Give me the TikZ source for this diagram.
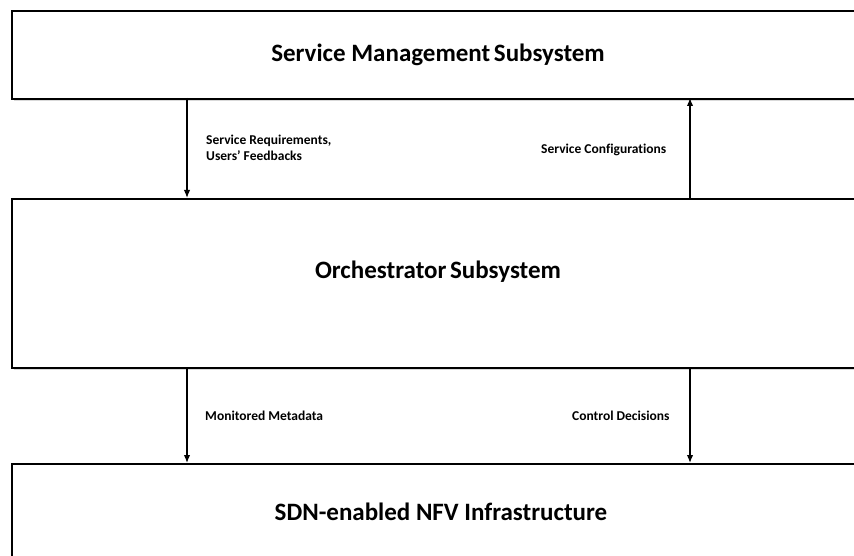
\documentclass[tikz,border=0pt]{standalone}
\usepackage{fontspec}
\setmainfont{Carlito}[Ligatures={NoCommon}]
\usetikzlibrary{arrows.meta,shadows}
\begin{document}
\begin{tikzpicture}[x=1pt,y=-1pt,
  layerbox/.style={draw=black, line width=2pt, fill=white, rectangle, anchor=north west, inner sep=0pt,
     drop shadow={shadow xshift=1.5pt, shadow yshift=-2pt, fill=black!25, opacity=0.6}},
  title/.style={font=\bfseries\fontsize{25}{30}\selectfont, inner sep=0pt},
  lab/.style={font=\bfseries\fontsize{13.5}{16}\selectfont, inner sep=0pt, align=left},
  flow/.style={line width=1.4pt, -{Latex[length=8pt,width=6.5pt]}}
]
\useasboundingbox (0,0) rectangle (854,556);
\clip (0,0) rectangle (854,556);
\node[layerbox, minimum width=870pt, minimum height=88pt] (sms) at (11,10) {};
\node[layerbox, minimum width=870pt, minimum height=169pt] (orch) at (11,198) {};
\node[layerbox, minimum width=870pt, minimum height=120pt] (nfv) at (11,463) {};
\node[title] (t1) at (438,55) {Service Management\hspace{-2pt} Subsystem};
\node[title] (t2) at (438,272) {Orchestrator\hspace{-2pt} Subsystem};
\node[title] (t3) at (441,512) {SDN-enabled NFV Infrastructure};
\coordinate (a1s) at (187,98);
\coordinate (a1e) at (187,198);
\coordinate (a2s) at (690,198);
\coordinate (a2e) at (690,98);
\coordinate (a3s) at (187,367);
\coordinate (a3e) at (187,463);
\coordinate (a4s) at (690,367);
\coordinate (a4e) at (690,463);
\draw[flow] (a1s) -- (a1e);
\draw[flow] (a2s) -- (a2e);
\draw[flow] (a3s) -- (a3e);
\draw[flow] (a4s) -- (a4e);
\node[lab, anchor=west] (l1) at (206,148) {Service Requirements,\\Users’ Feedbacks};
\node[lab, anchor=west] (l2) at (541,150) {Service Configurations};
\node[lab, anchor=west] (l3) at (205,416) {Monitored Metadata};
\node[lab, anchor=west] (l4) at (572,416) {Control Decisions};
\end{tikzpicture}
\end{document}
